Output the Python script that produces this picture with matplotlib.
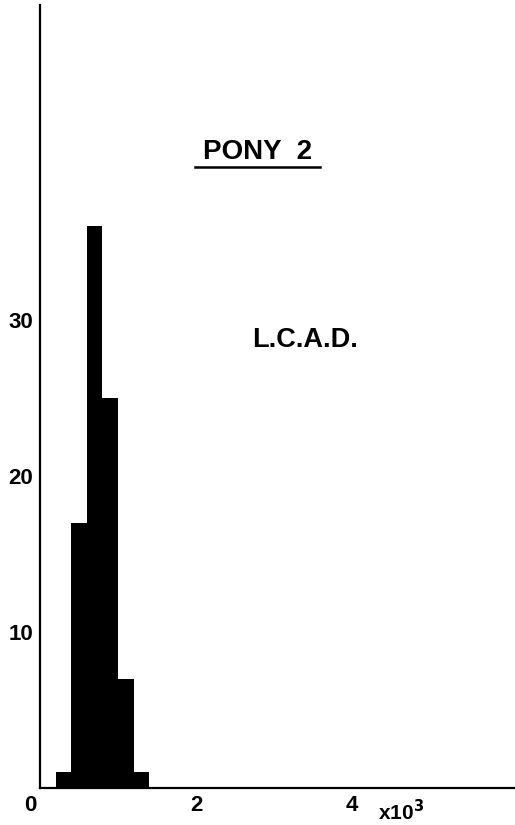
import matplotlib
matplotlib.use("Agg")
import matplotlib.pyplot as plt
import matplotlib.transforms as mtransforms

# Histogram of L.C.A.D. values (x10^3) for pony 2
bin_edges = [0.2, 0.4, 0.6, 0.8, 1.0, 1.2, 1.4]
counts = [1, 17, 36, 25, 7, 1]
x_ticks = [0, 2, 4]
x_tick_labels = ["0", "2", "4"]
y_ticks = [10, 20, 30]
y_tick_labels = ["10", "20", "30"]

plt.rcParams["font.family"] = ["Liberation Sans", "DejaVu Sans"]
plt.rcParams["font.weight"] = "bold"

W, H, DPI = 515, 825, 100
fig = plt.figure(figsize=(W / DPI, H / DPI), dpi=DPI)
ax_left, ax_bottom, ax_top = 40, 788, 5
ax = fig.add_axes([ax_left / W, (H - ax_bottom) / H, (W - ax_left) / W, (ax_bottom - ax_top) / H])

# solid filled histogram outline
ax.stairs(counts, bin_edges, fill=True, color="black", linewidth=0)

ax.set_xlim(0, 6.09)
ax.set_ylim(0, 50.2)

for side in ("top", "right"):
    ax.spines[side].set_visible(False)
for side in ("left", "bottom"):
    ax.spines[side].set_linewidth(1.6)
    ax.spines[side].set_color("black")

ax.set_xticks(x_ticks)
ax.set_xticklabels(x_tick_labels, fontsize=16, fontweight="bold")
ax.set_yticks(y_ticks)
ax.set_yticklabels(y_tick_labels, fontsize=16, fontweight="bold")
ax.tick_params(axis="both", length=0)
ax.tick_params(axis="x", pad=5)
ax.tick_params(axis="y", pad=5)

# shift the origin label slightly left of the axis line
lbl0 = ax.get_xticklabels()[0]
lbl0.set_transform(lbl0.get_transform() + mtransforms.ScaledTranslation(-10 / DPI, 0, fig.dpi_scale_trans))

fig.text(378 / W, 1 - 812 / H, r"x10$^{\mathbf{3}}$", fontsize=15, fontweight="bold", ha="left", va="center")

fig.text(258 / W, 1 - 152 / H, "PONY  2", fontsize=20, fontweight="bold", ha="center", va="center")
fig.add_artist(plt.Line2D([195 / W, 320 / W], [1 - 167 / H, 1 - 167 / H], color="black", linewidth=1.8))

fig.text(305 / W, 1 - 340 / H, "L.C.A.D.", fontsize=19.5, fontweight="bold", ha="center", va="center")

fig.savefig("out.png", dpi=DPI, facecolor="white")
